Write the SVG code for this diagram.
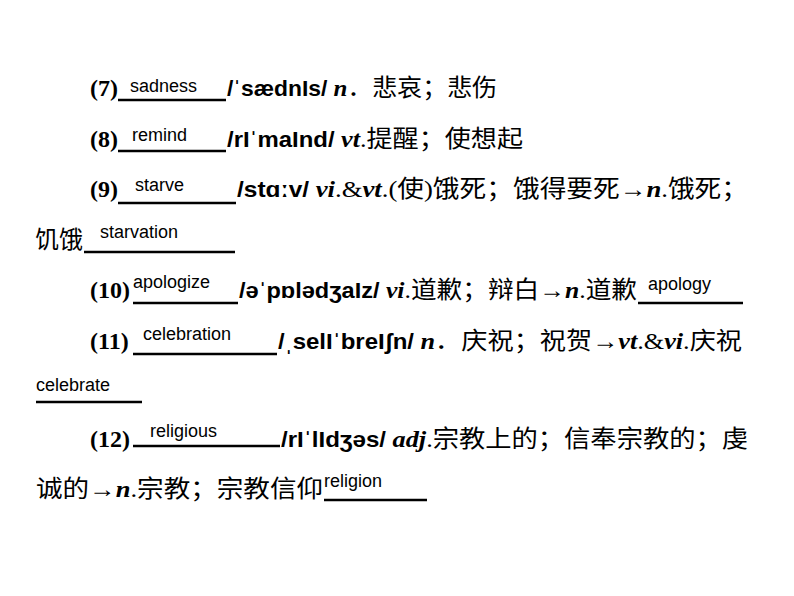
<svg xmlns="http://www.w3.org/2000/svg" width="794" height="596" viewBox="0 0 794 596">
<style>
.t{font-family:"Liberation Serif","Noto Sans CJK SC",serif;font-size:24px;fill:#000}
.b{font-weight:bold}
.i{font-style:italic;font-weight:bold}
.p{font-family:"Liberation Sans",sans-serif;font-weight:bold;font-size:22px}
.a{font-family:"Liberation Sans",sans-serif;font-size:18px;fill:#000}
.u{stroke:#000;stroke-width:2.5}
</style>
<rect width="794" height="596" fill="#fff"/>
<g id="answers">
<text class="a" x="130" y="92">sadness</text>
<text class="a" x="132" y="141">remind</text>
<text class="a" x="135" y="191">starve</text>
<text class="a" x="100" y="238">starvation</text>
<text class="a" x="133" y="288">apologize</text>
<text class="a" x="648" y="290">apology</text>
<text class="a" x="143" y="340">celebration</text>
<text class="a" x="36" y="391">celebrate</text>
<text class="a" x="150" y="437">religious</text>
<text class="a" x="324" y="487">religion</text>
</g>
<g id="blanks">
<line class="u" x1="118" y1="100" x2="226" y2="100"/>
<line class="u" x1="118" y1="151" x2="226" y2="151"/>
<line class="u" x1="118" y1="203" x2="236" y2="203"/>
<line class="u" x1="84" y1="252" x2="235" y2="252"/>
<line class="u" x1="133" y1="303" x2="238" y2="303"/>
<line class="u" x1="638" y1="303" x2="743" y2="303"/>
<line class="u" x1="133" y1="354" x2="277" y2="354"/>
<line class="u" x1="36" y1="402" x2="142" y2="402"/>
<line class="u" x1="133" y1="446" x2="280" y2="446"/>
<line class="u" x1="324" y1="500" x2="427" y2="500"/>
</g>
<g id="lines">
<text class="t b" x="90" y="96">(7)</text>
<text class="t" x="227" y="96" textLength="270" lengthAdjust="spacingAndGlyphs"><tspan class="p">/ˈsædnIs/</tspan> <tspan class="i">n</tspan>．悲哀；悲伤</text>
<text class="t b" x="90" y="147">(8)</text>
<text class="t" x="227" y="147" textLength="296" lengthAdjust="spacingAndGlyphs"><tspan class="p">/rIˈmaInd/</tspan> <tspan class="i">vt</tspan>.提醒；使想起</text>
<text class="t b" x="90" y="197">(9)</text>
<text class="t" x="237" y="197" textLength="511" lengthAdjust="spacingAndGlyphs"><tspan class="p">/stɑːv/</tspan>  <tspan class="i">vi</tspan>.&amp;<tspan class="i">vt</tspan>.(使)饿死；饿得要死→<tspan class="i">n</tspan>.饿死；</text>
<text class="t" x="35" y="248">饥饿</text>
<text class="t b" x="90" y="298">(10)</text>
<text class="t" x="239" y="298" textLength="398" lengthAdjust="spacingAndGlyphs"><tspan class="p">/əˈpɒlədʒaIz/</tspan> <tspan class="i">vi</tspan>.道歉；辩白→<tspan class="i">n</tspan>.道歉</text>
<text class="t b" x="90" y="349">(11)</text>
<text class="t" x="278" y="349" textLength="464" lengthAdjust="spacingAndGlyphs"><tspan class="p">/ˌselIˈbreIʃn/</tspan> <tspan class="i">n</tspan>．庆祝；祝贺→<tspan class="i">vt</tspan>.&amp;<tspan class="i">vi</tspan>.庆祝</text>
<text class="t b" x="90" y="447">(12)</text>
<text class="t" x="281" y="447" textLength="467" lengthAdjust="spacingAndGlyphs"><tspan class="p">/rIˈlIdʒəs/</tspan>  <tspan class="i">adj</tspan>.宗教上的；信奉宗教的；虔</text>
<text class="t" x="36" y="497" textLength="287" lengthAdjust="spacingAndGlyphs">诚的→<tspan class="i">n</tspan>.宗教；宗教信仰</text>
</g>
</svg>
